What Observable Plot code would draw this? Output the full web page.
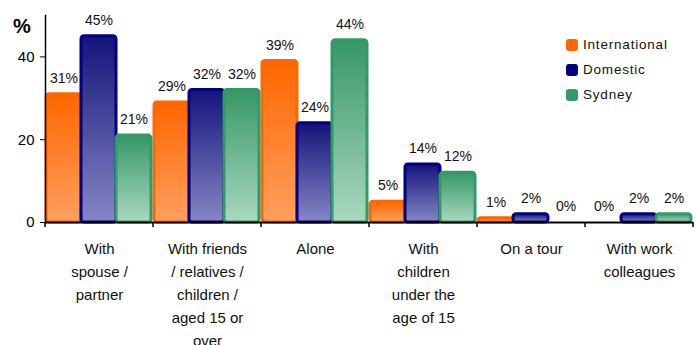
<!DOCTYPE html>
<html><head><meta charset="utf-8">
<script src="https://cdn.jsdelivr.net/npm/d3@7"></script>
<script src="https://cdn.jsdelivr.net/npm/@observablehq/plot@0.6"></script>
<style>
body{margin:0;background:#fff;font-family:"Liberation Sans",Arial,sans-serif;}
#wrap{position:relative;width:699px;height:345px;overflow:hidden;}
#pct{position:absolute;left:13px;top:15px;font-size:20px;font-weight:bold;color:#000;}
#legend{position:absolute;left:566px;top:32px;font-size:13.5px;color:#111;letter-spacing:0.8px;}
.li{display:flex;align-items:center;height:25px;}
.sw{width:12px;height:12px;border-radius:3px;margin-right:5px;}
</style></head>
<body><div id="wrap"><div id="pct">%</div><div id="legend"></div></div>
<script>
const categories = ["With\nspouse /\npartner", "With friends\n/ relatives /\nchildren /\naged 15 or\nover", "Alone", "With\nchildren\nunder the\nage of 15", "On a tour", "With work\ncolleagues"];
const series = ["International", "Domestic", "Sydney"];
const international = [31, 29, 39, 5, 1, 0];
const domestic = [45, 32, 24, 14, 2, 2];
const sydney = [21, 32, 44, 12, 0, 2];
const yTicks = [0, 20, 40];

const strokes = ["#FF6600", "#000080", "#339966"];
const gradTop = ["#FF6600", "#14147A", "#379766"];
const gradBot = ["#FFA060", "#8686C6", "#A9D8C0"];

const values = [international, domestic, sydney];
const data = categories.flatMap((c, i) => series.map((s, k) => ({cat: c, s, v: values[k][i]})));

const marks = [];
series.forEach((s, k) => {
  marks.push(Plot.barY(data.filter(d => d.s === s && d.v > 0), {
    fx: "cat", x: "s", y: "v", fill: `url(#g${k})`, stroke: strokes[k], strokeWidth: 3, rx: 3
  }));
});
marks.push(Plot.ruleY([0], {stroke: "#000", strokeWidth: 2}));
marks.push(Plot.text(data, {fx: "cat", x: "s", y: "v", text: d => d.v + "%", dy: -16, fontSize: 14, fill: "#111", ariaLabel: "value-labels"}));
marks.push(Plot.axisY({ticks: yTicks, tickSize: 5, tickPadding: 6, fontSize: 15, label: null, anchor: "left", facetAnchor: "left", ariaLabel: "yticks"}));
marks.push(Plot.frame({anchor: "left", facetAnchor: "left", stroke: "#000", strokeWidth: 1.5}));
marks.push(Plot.text(categories, {fx: d => d, text: d => d, frameAnchor: "bottom", lineAnchor: "top", dy: 15, lineHeight: 1.53, fontSize: 15, fill: "#111", ariaLabel: "category-labels"}));

const chart = Plot.plot({
  width: 699, height: 345,
  marginLeft: 42, marginRight: 4, marginTop: 15, marginBottom: 123,
  style: {fontFamily: '"Liberation Sans", Arial, sans-serif', background: "#fff", overflow: "visible"},
  fx: {domain: categories, padding: 0, axis: null, label: null},
  x: {domain: series, paddingInner: 0, paddingOuter: 0.02, align: 0.3, axis: null},
  y: {domain: [0, 50], axis: null},
  marks
});

const svg = d3.select(chart);
svg.selectAll('g[aria-label="category-labels"] text').style("letter-spacing", "1px");
svg.selectAll('g[aria-label="value-labels"] text').style("letter-spacing", "0.8px");
svg.selectAll('g[aria-label="yticks"] text').style("letter-spacing", "1.5px");
const defs = svg.insert("defs", ":first-child");
series.forEach((s, k) => {
  const g = defs.append("linearGradient").attr("id", `g${k}`).attr("x1", 0).attr("y1", 0).attr("x2", 0).attr("y2", 1);
  g.append("stop").attr("offset", "0%").attr("stop-color", gradTop[k]);
  g.append("stop").attr("offset", "100%").attr("stop-color", gradBot[k]);
});
const fx = chart.scale("fx"), y = chart.scale("y");
const y0 = y.apply(0);
const edges = categories.map(c => fx.apply(c)).concat([fx.apply(categories[categories.length - 1]) + fx.bandwidth]);
edges.forEach(x => {
  svg.append("line").attr("x1", x).attr("x2", x).attr("y1", y0).attr("y2", y0 + 5).attr("stroke", "#000").attr("stroke-width", 1.5);
});

document.getElementById("wrap").prepend(chart);
chart.style.position = "absolute"; chart.style.left = "0"; chart.style.top = "0";
document.getElementById("pct").style.zIndex = 2;
const lg = document.getElementById("legend");
lg.style.zIndex = 2;
series.forEach((s, k) => {
  const row = document.createElement("div"); row.className = "li";
  const sw = document.createElement("div"); sw.className = "sw"; sw.style.background = strokes[k];
  const t = document.createElement("span"); t.textContent = s;
  row.append(sw, t); lg.append(row);
});
</script></body></html>
